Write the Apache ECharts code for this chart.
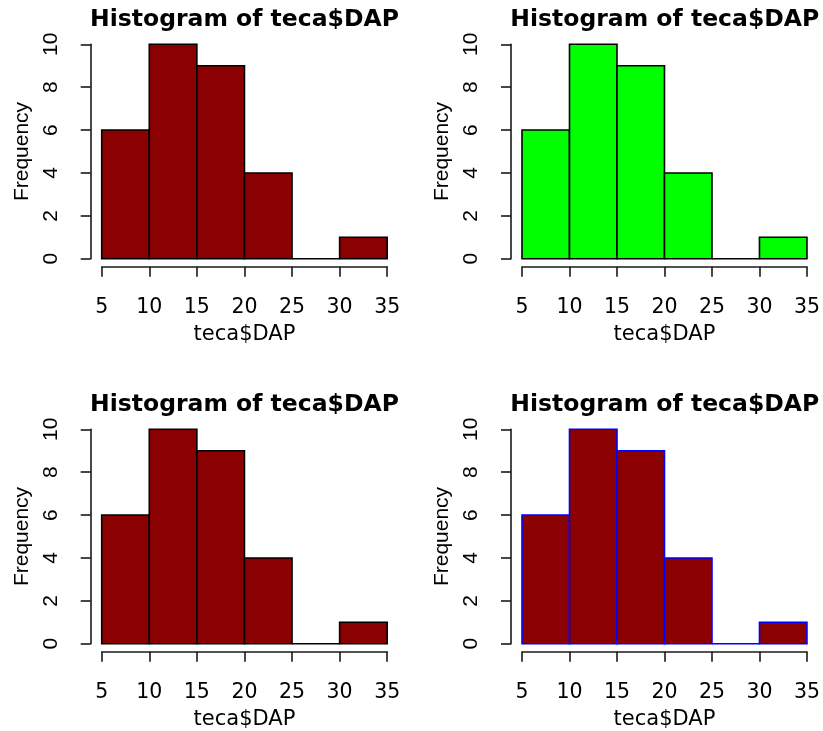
<!DOCTYPE html>
<html>
<head>
<meta charset="utf-8">
<script src="https://cdn.jsdelivr.net/npm/echarts@6/dist/echarts.min.js"></script>
<style>
  html, body { margin: 0; padding: 0; background: #ffffff; }
  #chart { width: 823px; height: 731px; }
</style>
</head>
<body>
<div id="chart"></div>
<script>
// Histogram bins of teca$DAP (break points and counts per bin)
const breaks = [5, 10, 15, 20, 25, 30, 35];
const counts = [6, 10, 9, 4, 0, 1];
const xTicks = [5, 10, 15, 20, 25, 30, 35];
const yTicks = [0, 2, 4, 6, 8, 10];

const titleText = 'Histogram of teca$DAP';
const xName = 'teca$DAP';
const yName = 'Frequency';

// one panel per histogram: fill colour and border colour
const panelFill = ['#8b0000', '#00ff00', '#8b0000', '#8b0000'];
const panelBorder = ['#000000', '#000000', '#000000', '#0000ff'];

// horizontal text uses a wider face, rotated text the Helvetica-like one
const FONT_H = '"DejaVu Sans", sans-serif';
const FONT_V = '"Liberation Sans", Arial, sans-serif';
const AXIS_COLOR = '#1a1a1a';

// panel geometry (plot region spanning the data range)
const panels = [
  { left: 101.7, top: 44.3 },
  { left: 522, top: 44.3 },
  { left: 101.7, top: 429.3 },
  { left: 522, top: 429.3 }
];
const plotW = 285.5;
const plotH = 214.4;

const binData = counts.map((c, i) => [breaks[i], breaks[i + 1], c]);

const option = {
  animation: false,
  backgroundColor: '#ffffff',
  title: [],
  grid: [],
  xAxis: [],
  yAxis: [],
  series: []
};

panels.forEach((p, k) => {
  option.title.push({
    text: titleText,
    left: p.left + plotW / 2,
    top: p.top - 36,
    padding: 0,
    textAlign: 'center',
    textStyle: { fontFamily: FONT_H, fontWeight: 'bold', fontSize: 23.5, color: '#000000' }
  });
  option.grid.push({ left: p.left, top: p.top, width: plotW, height: plotH, containLabel: false });
  option.xAxis.push({
    type: 'value',
    gridIndex: k,
    min: xTicks[0],
    max: xTicks[xTicks.length - 1],
    interval: xTicks[1] - xTicks[0],
    offset: 8,
    name: xName,
    nameLocation: 'middle',
    nameGap: 57,
    nameTextStyle: { fontFamily: FONT_H, fontSize: 21, color: '#000000' },
    axisLine: { show: true, onZero: false, lineStyle: { color: AXIS_COLOR, width: 1.6 } },
    axisTick: { show: true, length: 10, lineStyle: { color: AXIS_COLOR, width: 1.6 } },
    axisLabel: { show: true, margin: 30, fontFamily: FONT_H, fontSize: 20.5, color: '#000000',
                 showMinLabel: true, showMaxLabel: true },
    splitLine: { show: false }
  });
  option.yAxis.push({
    type: 'value',
    gridIndex: k,
    min: yTicks[0],
    max: yTicks[yTicks.length - 1],
    interval: yTicks[1] - yTicks[0],
    offset: 11,
    name: yName,
    nameLocation: 'middle',
    nameRotate: 90,
    nameGap: 58,
    nameTextStyle: { fontFamily: FONT_V, fontSize: 21, color: '#000000' },
    axisLine: { show: true, onZero: false, lineStyle: { color: AXIS_COLOR, width: 1.6 } },
    axisTick: { show: true, length: 10, lineStyle: { color: AXIS_COLOR, width: 1.6 } },
    axisLabel: { show: true, rotate: 90, margin: 29, fontFamily: FONT_V, fontSize: 21, color: '#000000',
                 showMinLabel: true, showMaxLabel: true },
    splitLine: { show: false }
  });
  option.series.push({
    type: 'custom',
    xAxisIndex: k,
    yAxisIndex: k,
    data: binData,
    encode: { x: [0, 1], y: 2 },
    renderItem: function (params, api) {
      const topLeft = api.coord([api.value(0), api.value(2)]);
      const bottomRight = api.coord([api.value(1), 0]);
      const x0 = topLeft[0], y0 = topLeft[1];
      const x1 = bottomRight[0], y1 = bottomRight[1];
      return {
        type: 'polygon',
        shape: { points: [[x0, y1], [x0, y0], [x1, y0], [x1, y1]] },
        style: { fill: panelFill[k], stroke: panelBorder[k], lineWidth: 1.6 }
      };
    }
  });
});

const chart = echarts.init(document.getElementById('chart'), null, { renderer: 'canvas' });
chart.setOption(option);
</script>
</body>
</html>
